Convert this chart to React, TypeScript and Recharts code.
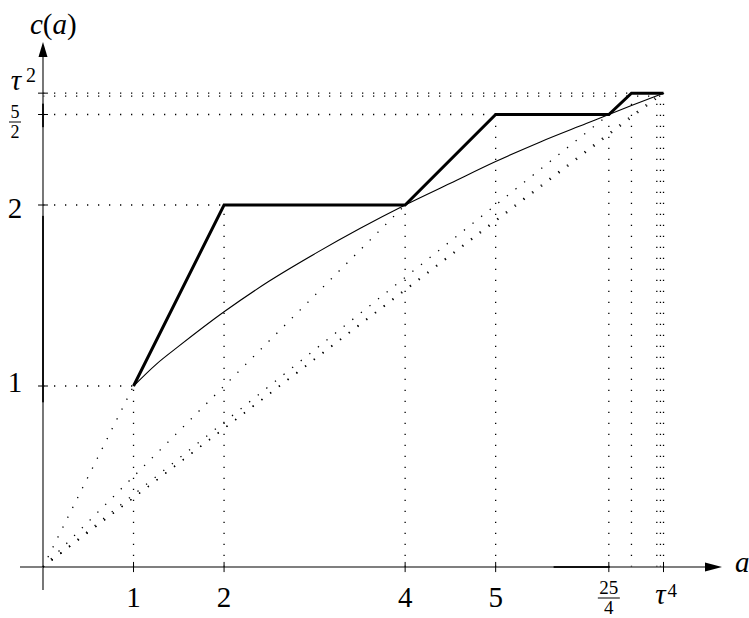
import React from 'react';
import { LineChart, Line, XAxis, YAxis, ReferenceLine, ReferenceDot } from 'recharts';

const TAU2 = 2.618;
const TAU4 = 6.854;

// thick staircase c(a)
const stepA = [1, 2, 4, 5, 6.25, 6.5, TAU4];
const stepC = [1, 2, 2, 2.5, 2.5, TAU2, TAU2];

// thin curve
const curveA = [1, 1.25, 1.5, 2, 2.5, 3, 3.5, 4, 4.5, 5, 5.5, 6, 6.25, 6.5, TAU4];
const curveC = [1, 1.12, 1.22, 1.41, 1.58, 1.73, 1.87, 2, 2.12, 2.24, 2.35, 2.45, 2.5, 2.55, TAU2];

// dotted rays from the origin
const rayA = [1, 4, 6.25, 6.78, TAU4];
const rayC = [1, 2, 2.5, 2.6, TAU2];

// dotted guides
const vGuideA = [1, 2, 4, 5, 6.25, 6.5, 6.78, 6.82, TAU4];
const vGuideTop = [1, 2, 2, 2.5, 2.5, TAU2, TAU2, TAU2, TAU2];
const hGuideC = [1, 2, 2.5, 2.602, TAU2];
const hGuideEnd = [1, 4, 6.25, 6.854, TAU4];

// thick marks sitting on the axes
const ySpans = [[0.91, 1.94], [2.43, 2.56]];
const xSpans = [[5.64, 6.26]];

const xTicks = [1, 2, 4, 5, 6.25, TAU4];
const yTicks = [1, 2, 2.5, TAU2];

const X_DOMAIN = [-0.254, 7.5];
const Y_DOMAIN = [-0.127, 2.9006];

const toPts = (xs: number[], ys: number[]) => xs.map((a, i) => ({ a, c: ys[i] }));

const DOT = '1.3 9.7';
const FONT = '"Liberation Serif", "DejaVu Serif", serif';

function XTick(props: any) {
  const { x, payload } = props;
  const v = payload.value;
  if (v === 6.25) {
    return (
      <g>
        <text x={x} y={594} fontSize={19} textAnchor="middle">25</text>
        <line x1={x - 11} x2={x + 11} y1={598} y2={598} stroke="#000" strokeWidth={1} />
        <text x={x} y={614} fontSize={19} textAnchor="middle">4</text>
      </g>
    );
  }
  if (v === TAU4) {
    return (
      <g>
        <text x={x - 3} y={604} fontSize={29} fontStyle="italic" textAnchor="middle">τ</text>
        <text x={x + 4} y={597} fontSize={19}>4</text>
      </g>
    );
  }
  return <text x={x} y={607} fontSize={29} textAnchor="middle">{v}</text>;
}

function YTick(props: any) {
  const { y, payload } = props;
  const v = payload.value;
  if (v === 2.5) {
    return (
      <g>
        <text x={15} y={y + 3} fontSize={18} textAnchor="middle">5</text>
        <line x1={9} x2={21} y1={y + 7.5} y2={y + 7.5} stroke="#000" strokeWidth={1} />
        <text x={15} y={y + 23} fontSize={18} textAnchor="middle">2</text>
      </g>
    );
  }
  if (v === TAU2) {
    return (
      <g>
        <text x={16} y={y - 3.5} fontSize={29} fontStyle="italic" textAnchor="middle">τ</text>
        <text x={26} y={y - 11.5} fontSize={20}>2</text>
      </g>
    );
  }
  const dy = v === 2 ? 13 : 6;
  return <text x={15} y={y + dy} fontSize={29} textAnchor="middle">{v}</text>;
}

export default function App() {
  return (
    <div style={{ position: 'absolute', left: 0, top: 0, fontFamily: FONT, background: '#fff' }}>
      <LineChart width={749} height={618} margin={{ top: 42, right: 27, bottom: 0, left: 0 }}>
        <XAxis
          type="number"
          dataKey="a"
          domain={X_DOMAIN}
          ticks={xTicks}
          tick={<XTick />}
          height={28}
          axisLine={false}
          tickLine={false}
          allowDataOverflow
          interval={0}
        />
        <YAxis
          type="number"
          dataKey="c"
          domain={Y_DOMAIN}
          ticks={yTicks}
          tick={<YTick />}
          width={20}
          axisLine={false}
          tickLine={false}
          allowDataOverflow
          interval={0}
        />

        {/* dotted guides */}
        {vGuideA.map((a, i) => (
          <ReferenceLine key={'v' + i} segment={[{ x: a, y: 0 }, { x: a, y: vGuideTop[i] }]}
            stroke="#000" strokeWidth={1.3} strokeDasharray={DOT} ifOverflow="visible" />
        ))}
        {hGuideC.map((c, i) => (
          <ReferenceLine key={'h' + i} segment={[{ x: 0, y: c }, { x: hGuideEnd[i], y: c }]}
            stroke="#000" strokeWidth={1.3} strokeDasharray={DOT} ifOverflow="visible" />
        ))}

        {/* axes */}
        <ReferenceLine segment={[{ x: X_DOMAIN[0], y: 0 }, { x: 7.35, y: 0 }]} stroke="#555" strokeWidth={1.6} ifOverflow="visible" />
        <ReferenceLine segment={[{ x: 0, y: Y_DOMAIN[0] }, { x: 0, y: 2.83 }]} stroke="#555" strokeWidth={1.6} ifOverflow="visible" />
        {ySpans.map((s, i) => (
          <ReferenceLine key={'ys' + i} segment={[{ x: 0, y: s[0] }, { x: 0, y: s[1] }]} stroke="#111" strokeWidth={2} ifOverflow="visible" />
        ))}
        {xSpans.map((s, i) => (
          <ReferenceLine key={'xs' + i} segment={[{ x: s[0], y: 0 }, { x: s[1], y: 0 }]} stroke="#111" strokeWidth={2} ifOverflow="visible" />
        ))}
        {xTicks.map((a) => (
          <ReferenceLine key={'xt' + a} segment={[{ x: a, y: -0.028 }, { x: a, y: 0.028 }]} stroke="#000" strokeWidth={1} ifOverflow="visible" />
        ))}
        {yTicks.map((c) => (
          <ReferenceLine key={'yt' + c} segment={[{ x: -0.055, y: c }, { x: 0.055, y: c }]} stroke="#000" strokeWidth={1} ifOverflow="visible" />
        ))}
        <ReferenceDot x={X_DOMAIN[1]} y={0} ifOverflow="visible"
          shape={(p: any) => <polygon points={`${p.cx},${p.cy} ${p.cx - 17},${p.cy - 4.5} ${p.cx - 17},${p.cy + 4.5}`} fill="#000" />} />
        <ReferenceDot x={0} y={Y_DOMAIN[1]} ifOverflow="visible"
          shape={(p: any) => <polygon points={`${p.cx},${p.cy} ${p.cx - 4.5},${p.cy + 15} ${p.cx + 4.5},${p.cy + 15}`} fill="#000" />} />
        <ReferenceDot x={0} y={Y_DOMAIN[1]} ifOverflow="visible"
          shape={(p: any) => (
            <text x={p.cx - 13} y={p.cy - 8} fontSize={29}>
              <tspan fontStyle="italic">c</tspan>(<tspan fontStyle="italic">a</tspan>)
            </text>
          )} />
        <ReferenceDot x={X_DOMAIN[1]} y={0} ifOverflow="visible"
          shape={(p: any) => <text x={p.cx + 13} y={p.cy + 5} fontSize={29} fontStyle="italic">a</text>} />

        {/* rays */}
        {rayA.map((a, i) => (
          <Line key={'r' + i} data={toPts([0, a], [0, rayC[i]])} dataKey="c" type="linear"
            stroke="#000" strokeWidth={1.3} strokeDasharray={DOT} dot={false} activeDot={false}
            isAnimationActive={false} />
        ))}

        <Line data={toPts(curveA, curveC)} dataKey="c" type="monotone" stroke="#000" strokeWidth={1.1}
          dot={false} activeDot={false} isAnimationActive={false} />
        <Line data={toPts(stepA, stepC)} dataKey="c" type="linear" stroke="#000" strokeWidth={3}
          strokeLinejoin="miter" dot={false} activeDot={false} isAnimationActive={false} />
      </LineChart>
    </div>
  );
}
